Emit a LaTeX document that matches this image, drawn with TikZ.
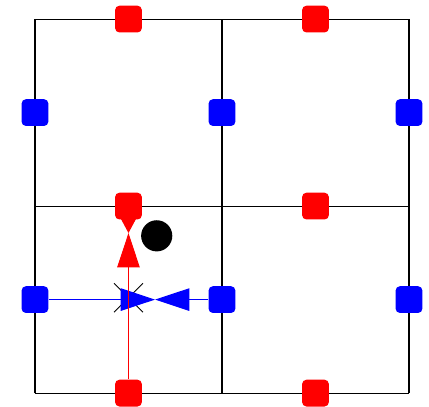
\documentclass[tikz,border=0pt]{standalone}
\usepackage{tikz}
\usetikzlibrary{arrows.meta,positioning,shapes.misc,backgrounds}

\begin{document}
\begin{tikzpicture}[
  x=3cm, y=3cm,
  hdof/.style={draw=none, fill=red, rounded corners=0.07cm,
    minimum size=0.43cm, inner sep=0pt},
  vdof/.style={hdof, fill=blue},
  redarrow/.style={red, line width=0.45pt},
  bluearrow/.style={blue, line width=0.45pt},
  tip/.style={-{Triangle[length=0.55cm, width=0.36cm]}}
]
  \useasboundingbox (-0.187,-0.07) rectangle (2.107,2.102);
  % Nodes
  \node[hdof] (h00) at (0.5,0) {};
  \node[hdof] (h10) at (1.5,0) {};
  \node[hdof] (h01) at (0.5,1) {};
  \node[hdof] (h11) at (1.5,1) {};
  \node[hdof] (h02) at (0.5,2) {};
  \node[hdof] (h12) at (1.5,2) {};
  \node[vdof] (v00) at (0,0.5) {};
  \node[vdof] (v10) at (1,0.5) {};
  \node[vdof] (v20) at (2,0.5) {};
  \node[vdof] (v01) at (0,1.5) {};
  \node[vdof] (v11) at (1,1.5) {};
  \node[vdof] (v21) at (2,1.5) {};
  \node[circle, fill=black, minimum size=0.5cm, inner sep=0pt] (dot) at (0.651,0.841) {};
  \coordinate (rtip) at (0.5,0.856);
  \coordinate (btip) at (0.642,0.5);
  \begin{scope}[on background layer]
    % Mesh
    \draw[line width=0.5pt, step=3cm] (0,0) grid (2,2);
    \node[cross out, draw=black, line width=0.4pt, minimum size=0.45cm,
      inner sep=0pt] (cross) at (0.5,0.51) {};
    % Arrows
    \draw[bluearrow, tip] (v00) -- (btip);
    \draw[bluearrow, tip] (v10) -- (btip);
    \draw[redarrow, tip] (h00) -- (rtip);
    \draw[redarrow, -{Triangle[length=0.34cm, width=0.36cm]}] (h01) -- (rtip);
  \end{scope}
\end{tikzpicture}
\end{document}
